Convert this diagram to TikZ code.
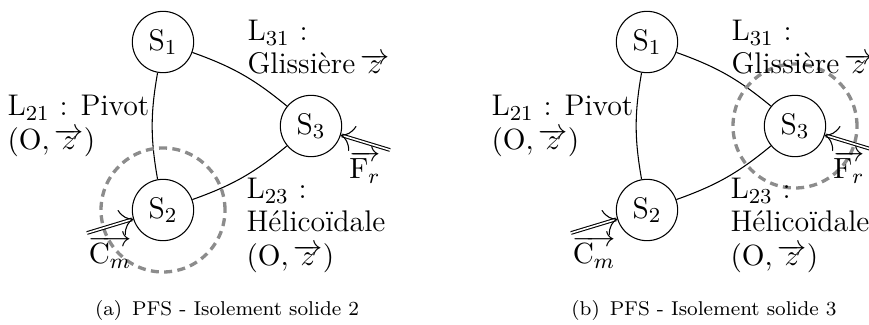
\documentclass[tikz,border=0pt]{standalone}
\usepackage{tikz}
\usetikzlibrary{arrows.meta}
\newcommand{\vz}{\overrightarrow{z}}
\newcommand{\lbl}{\fontsize{11.2}{12.4}\selectfont}

\begin{document}
\begin{tikzpicture}[x=0.375pt,y=-0.375pt,
  solide/.style={draw,circle,thin,minimum size=23pt,inner sep=0pt,font=\lbl},
  lien/.style={thin},
  iso/.style={draw=black!45,circle,line width=1.25pt,dash pattern=on 3pt off 2pt,minimum size=46.5pt,inner sep=0pt},
  effort/.style={double,thin,->},
  txt/.style={align=left,anchor=north west,inner sep=0pt,font=\lbl},
  vect/.style={inner sep=0pt,font=\lbl},
  legende/.style={inner sep=0pt,font=\fontsize{7.5}{9}\selectfont}]
\useasboundingbox (0,0) rectangle (869,325);
% (a) isolement de S2
\node[solide] (s1a) at (163,42) {S$_1$};
\node[solide] (s2a) at (163,210) {S$_2$};
\node[solide] (s3a) at (311,126) {S$_3$};
\draw[lien] (s1a) to[bend right=10] (s2a);
\draw[lien] (s2a) to[bend right=10] (s3a);
\draw[lien] (s3a) to[bend right=10] (s1a);
\node[iso] (isoa) at (s2a) {};
\node[txt] (l31a) at (247,20) {L$_{31}$ :\\Glissière\,$\vz$};
\node[txt] (l21a) at (7,95) {L$_{21}$ : Pivot\\$\bigl(\mathrm{O},\vz\bigr)$};
\node[txt] (l23a) at (246,178) {L$_{23}$ :\\Hélicoïdale\\$\bigl(\mathrm{O},\vz\bigr)$};
\coordinate (cma) at (87,233);
\coordinate (fra) at (390,150);
\draw[effort] (cma) -- (s2a);
\draw[effort] (fra) -- (s3a);
\node[vect] (ccma) at (110,252) {$\overrightarrow{\mathrm{C}_m}$};
\node[vect] (ffra) at (365,167) {$\overrightarrow{\mathrm{F}_r}$};
\node[legende] (capa) at (227,310) {(a)\enspace PFS - Isolement solide 2};
% (b) isolement de S3
\begin{scope}[xshift=181.5pt]
\node[solide] (s1b) at (163,42) {S$_1$};
\node[solide] (s2b) at (163,210) {S$_2$};
\node[solide] (s3b) at (311,126) {S$_3$};
\draw[lien] (s1b) to[bend right=10] (s2b);
\draw[lien] (s2b) to[bend right=10] (s3b);
\draw[lien] (s3b) to[bend right=10] (s1b);
\node[iso] (isob) at (s3b) {};
\node[txt] (l31b) at (247,20) {L$_{31}$ :\\Glissière\,$\vz$};
\node[txt] (l21b) at (7,95) {L$_{21}$ : Pivot\\$\bigl(\mathrm{O},\vz\bigr)$};
\node[txt] (l23b) at (246,178) {L$_{23}$ :\\Hélicoïdale\\$\bigl(\mathrm{O},\vz\bigr)$};
\coordinate (cmb) at (87,233);
\coordinate (frb) at (390,150);
\draw[effort] (cmb) -- (s2b);
\draw[effort] (frb) -- (s3b);
\node[vect] (ccmb) at (110,252) {$\overrightarrow{\mathrm{C}_m}$};
\node[vect] (ffrb) at (365,167) {$\overrightarrow{\mathrm{F}_r}$};
\node[legende] (capb) at (220,310) {(b)\enspace PFS - Isolement solide 3};
\end{scope}
\end{tikzpicture}
\end{document}
